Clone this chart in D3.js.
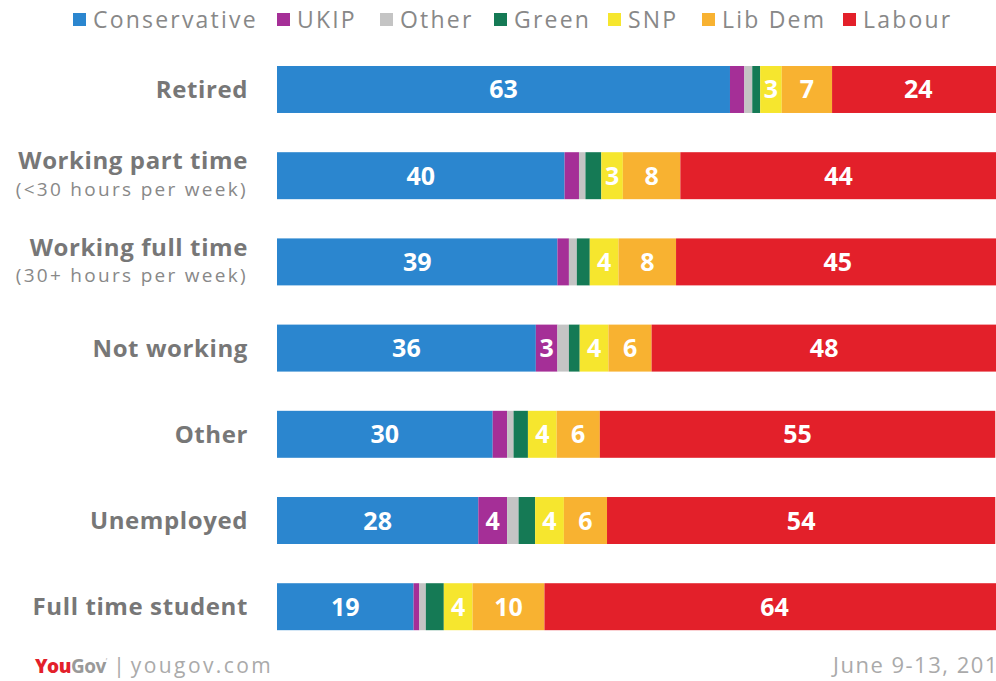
<!DOCTYPE html>
<html><head><meta charset="utf-8">
<script src="https://cdn.jsdelivr.net/npm/d3@7"></script>
<style>
html,body{margin:0;padding:0;background:#fff;overflow:hidden}
svg{display:block;font-family:"Open Sans",Lato,sans-serif}
</style></head>
<body><svg id="chart" width="996" height="681"></svg>
<script>
const categories = ["Retired","Working part time","Working full time","Not working","Other","Unemployed","Full time student"];
const subLabels = ["","(<30 hours per week)","(30+ hours per week)","","","",""];
const seriesNames = ["Conservative","UKIP","Other","Green","SNP","Lib Dem","Labour"];
const seriesColors = ["#2b86cf","#a52f97","#c4c4c4","#157a55","#f6e62e","#f8b231","#e3202a"];
const conservative = [63,40,39,36,30,28,19];
const ukip         = [2,2,1.6,3,2,4,0.8];
const other        = [1.1,0.9,1.1,1.6,0.9,1.6,0.9];
const green        = [1.1,2.2,1.8,1.5,2,2.3,2.5];
const snp          = [3,3,4,4,4,4,4];
const libdem       = [7,8,8,6,6,6,10];
const labour       = [24,44,45,48,55,54,64];
const footerSite = "yougov.com";
const footerDate = "June 9-13, 2017";

const seriesValues = [conservative,ukip,other,green,snp,libdem,labour];
const rows = categories.map((c,i)=>{
  const r = {category:c};
  seriesNames.forEach((s,j)=>r[s]=seriesValues[j][i]);
  return r;
});

const svg = d3.select("#chart");
const x = d3.scaleLinear().domain([0,100]).range([277,996]);
const y = d3.scaleBand().domain(categories).range([66,630.2]).paddingInner(0.455).paddingOuter(0);
const color = d3.scaleOrdinal().domain(seriesNames).range(seriesColors);

const stacked = d3.stack().keys(seriesNames)(rows);

const layers = svg.append("g").selectAll("g").data(stacked).join("g").attr("fill",d=>color(d.key));
layers.selectAll("rect").data(d=>d).join("rect")
  .attr("x",d=>x(d[0])).attr("width",d=>Math.max(0,Math.min(x(d[1]),1000)-x(d[0])))
  .attr("y",d=>y(d.data.category)).attr("height",y.bandwidth());

// value labels
layers.selectAll("text").data(d=>d.map(v=>({v,key:d.key}))).join("text")
  .filter(d=>d.v[1]-d.v[0]>=3)
  .attr("x",d=>(x(d.v[0])+x(d.v[1]))/2)
  .attr("y",d=>y(d.v.data.category)+y.bandwidth()/2)
  .attr("dy","0.36em").attr("text-anchor","middle")
  .attr("fill","#fff").attr("font-weight",700).attr("font-size",25)
  .text(d=>Math.round(d.v[1]-d.v[0]));

// category labels
const lab = svg.append("g").selectAll("g").data(categories).join("g");
lab.append("text")
  .attr("x",248)
  .attr("y",(d,i)=>y(d)+y.bandwidth()/2 + (subLabels[i]?-15:0))
  .attr("dy","0.36em").attr("text-anchor","end")
  .attr("fill","#777").attr("font-weight",700).attr("font-size",24).attr("letter-spacing",0.6)
  .text(d=>d);
lab.filter((d,i)=>subLabels[i]).append("text")
  .attr("x",248)
  .attr("y",d=>y(d)+y.bandwidth()/2+13)
  .attr("dy","0.36em").attr("text-anchor","end")
  .attr("fill","#888").attr("font-size",19).attr("letter-spacing",2.3)
  .text(d=>subLabels[categories.indexOf(d)]);

// legend
const legX = [73,277,380,494,608,702,843];
const leg = svg.append("g").selectAll("g").data(seriesNames).join("g")
  .attr("transform",(d,i)=>`translate(${legX[i]},0)`);
leg.append("rect").attr("x",0).attr("y",13).attr("width",13).attr("height",13).attr("fill",d=>color(d));
leg.append("text").attr("x",20).attr("y",20).attr("dy","0.36em")
  .attr("fill","#888").attr("font-size",23).attr("letter-spacing",2.2).text(d=>d);

// footer
const f = svg.append("text").attr("x",35).attr("y",673).attr("font-size",19);
f.append("tspan").attr("fill","#e3202a").attr("font-weight",800).attr("letter-spacing",-0.5).text("You");
f.append("tspan").attr("fill","#999").attr("font-weight",700).attr("letter-spacing",-0.5).text("Gov");
f.append("tspan").attr("fill","#bbb").attr("font-size",9).attr("dy",-8).text("’");
f.append("tspan").attr("fill","#aaa").attr("dy",8).attr("font-size",22).text(" | ");
f.append("tspan").attr("fill","#aaa").attr("font-size",21).attr("letter-spacing",2.4).text(footerSite);
svg.append("text").attr("x",833).attr("y",673).attr("fill","#aaa").attr("font-size",22).attr("letter-spacing",1.5).text(footerDate);
</script></body></html>
